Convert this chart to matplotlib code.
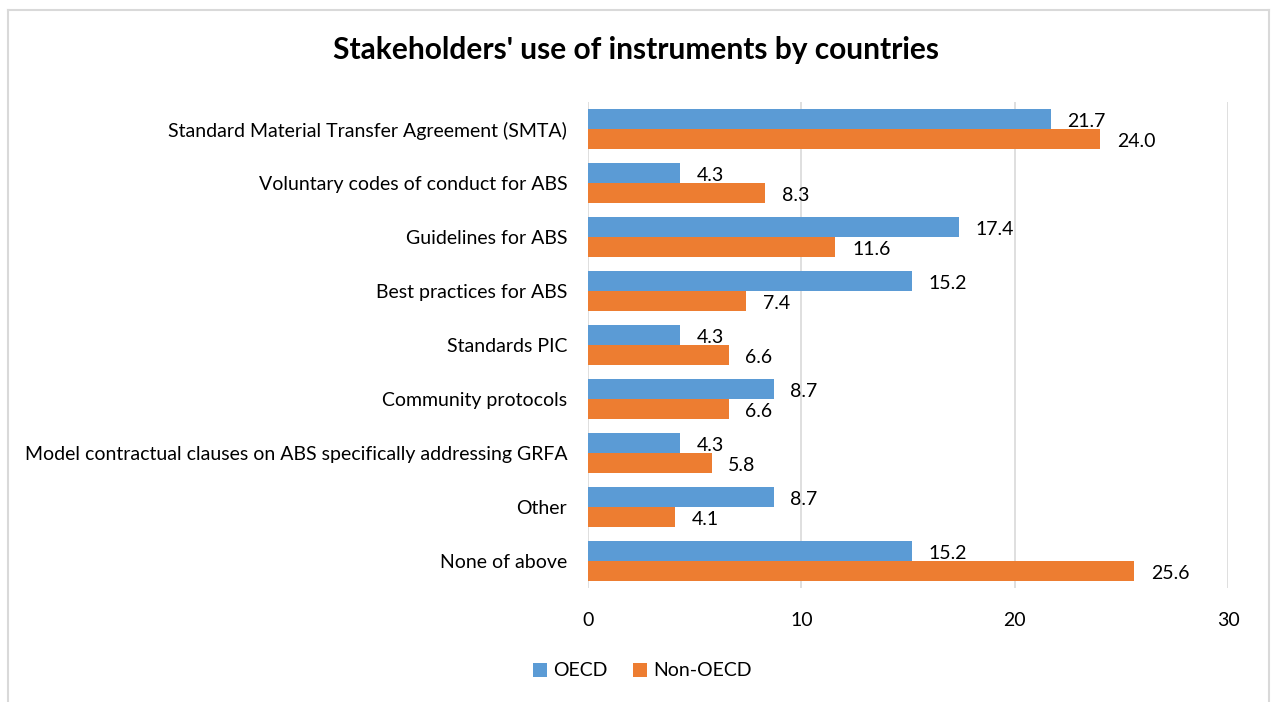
import numpy as np
import matplotlib
matplotlib.use("Agg")
from matplotlib import pyplot as plt
from matplotlib.lines import Line2D

plt.rcParams["font.family"] = ["Lato", "DejaVu Sans"]

categories = [
    "Standard Material Transfer Agreement (SMTA)",
    "Voluntary codes of conduct for ABS",
    "Guidelines for ABS",
    "Best practices for ABS",
    "Standards PIC",
    "Community protocols",
    "Model contractual clauses on ABS specifically addressing GRFA",
    "Other",
    "None of above",
]
oecd = [21.7, 4.3, 17.4, 15.2, 4.3, 8.7, 4.3, 8.7, 15.2]
non_oecd = [24.0, 8.3, 11.6, 7.4, 6.6, 6.6, 5.8, 4.1, 25.6]
xticks = [0, 10, 20, 30]

blue = "#5B9BD5"
orange = "#ED7D31"
grid_c = "#D9D9D9"

fig = plt.figure(figsize=(12.72, 7.02), dpi=100)
ax = fig.add_axes([588 / 1272, 1 - 588 / 702, 640 / 1272, 486 / 702])

y = np.arange(len(categories))
h = 0.37
b1 = ax.barh(y - h / 2, oecd, height=h, color=blue, zorder=3)
b2 = ax.barh(y + h / 2, non_oecd, height=h, color=orange, zorder=3)

for bars, vals in ((b1, oecd), (b2, non_oecd)):
    for bar, v in zip(bars, vals):
        ax.annotate(f"{v:.1f}", (bar.get_width(), bar.get_y() + bar.get_height() / 2),
                    xytext=(12, -2), textcoords="offset points",
                    ha="left", va="center", fontsize=14, color="#000000")

ax.set_xlim(0, 30)
ax.set_ylim(len(categories) - 0.5, -0.5)
ax.set_xticks(xticks)
ax.set_xticklabels([str(t) for t in xticks], fontsize=14)
ax.set_yticks(y)
ax.set_yticklabels(categories, fontsize=14)
ax.tick_params(axis="both", length=0)
ax.tick_params(axis="y", pad=15)
ax.tick_params(axis="x", pad=17)
ax.grid(axis="x", color=grid_c, linewidth=1.2, zorder=0)
for s in ax.spines.values():
    s.set_visible(False)

fig.text(0.5, 1 - 50 / 702, "Stakeholders' use of instruments by countries",
         ha="center", va="center", fontsize=21.5, fontweight="bold")

fig.legend([b1, b2], ["OECD", "Non-OECD"], loc="center",
           bbox_to_anchor=(642 / 1272, 1 - 671 / 702), ncol=2, frameon=False,
           fontsize=14, handlelength=0.75, handleheight=0.75, handletextpad=0.3,
           columnspacing=1.3)

# chart border
bx0, bx1, by1 = 7.5 / 1272, 1268.5 / 1272, 1 - 9.5 / 702
for xs, ys in (([bx0, bx0], [0, by1]), ([bx0, bx1], [by1, by1]), ([bx1, bx1], [by1, 0])):
    fig.add_artist(Line2D(xs, ys, color=grid_c, linewidth=1.5, transform=fig.transFigure))

fig.savefig("out.png", dpi=100)
